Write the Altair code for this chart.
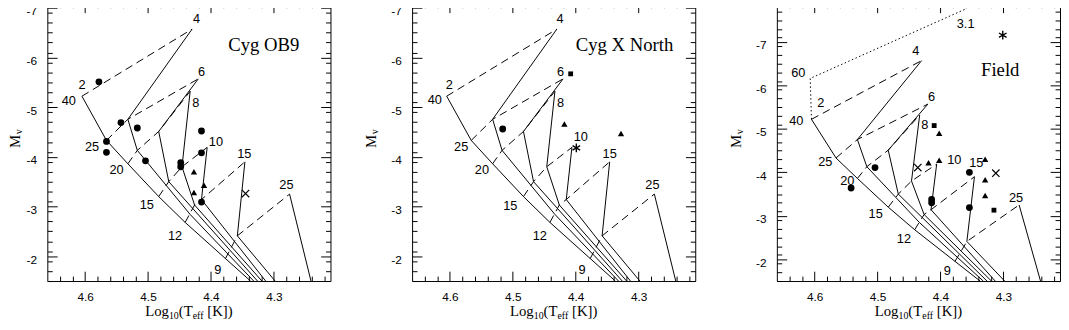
import altair as alt
import pandas as pd

# ---------------- model grid (same in all panels) ----------------
# isochrones (solid), labelled by age in Myr
ISO_AGES = ["2", "4", "6", "8", "10", "15", "25"]
ISO_X = [
    [4.605, 4.566, 4.532, 4.483, 4.441, 4.337],
    [4.430, 4.532, 4.517, 4.433, 4.332],
    [4.420, 4.483, 4.467, 4.326],
    [4.433, 4.446, 4.426, 4.319],
    [4.406, 4.415, 4.313],
    [4.346, 4.358, 4.298],
    [4.275, 4.241],
]
ISO_Y = [
    [-5.22, -4.33, -3.86, -3.20, -2.68, -1.50],
    [-6.57, -4.755, -4.13, -2.84, -1.50],
    [-5.57, -4.51, -3.50, -1.50],
    [-5.32, -3.80, -3.03, -1.50],
    [-4.19, -3.14, -1.50],
    [-3.90, -2.41, -1.50],
    [-3.25, -1.50],
]
# evolutionary tracks (dashed), labelled by mass
TRK_MASS = ["40", "25", "20", "15", "12", "9"]
TRK_X = [
    [4.605, 4.430],
    [4.566, 4.532, 4.420],
    [4.532, 4.517, 4.483, 4.433],
    [4.483, 4.467, 4.446, 4.406],
    [4.441, 4.426, 4.415, 4.346],
    [4.377, 4.358, 4.275],
]
TRK_Y = [
    [-5.22, -6.57],
    [-4.33, -4.755, -5.57],
    [-3.86, -4.13, -4.51, -5.32],
    [-3.20, -3.50, -3.80, -4.19],
    [-2.68, -3.03, -3.14, -3.90],
    [-1.95, -2.41, -3.25],
]
# 60 Msun extension (dotted, Field panel only)
T60_X = [4.605, 4.607, 4.358]
T60_Y = [-5.22, -6.16, -7.77]

# ---------------- stars ----------------
P1_CIRC_X = [4.578, 4.543, 4.517, 4.566, 4.566, 4.504, 4.448, 4.448, 4.415, 4.415, 4.415]
P1_CIRC_Y = [-5.51, -4.69, -4.58, -4.31, -4.09, -3.92, -3.88, -3.80, -4.52, -4.08, -3.09]
P1_TRI_X = [4.427, 4.411, 4.427]
P1_TRI_Y = [-3.70, -3.43, -3.28]
P1_SQ_X, P1_SQ_Y = [], []
P1_X_X = [4.345]
P1_X_Y = [-3.26]
P1_AST_X, P1_AST_Y = [], []

P2_CIRC_X = [4.516]
P2_CIRC_Y = [-4.56]
P2_TRI_X = [4.418, 4.328]
P2_TRI_Y = [-4.66, -4.47]
P2_SQ_X = [4.408]
P2_SQ_Y = [-5.67]
P2_X_X, P2_X_Y = [], []
P2_AST_X = [4.399]
P2_AST_Y = [-4.18]

P3_CIRC_X = [4.504, 4.542, 4.354, 4.414, 4.414, 4.354]
P3_CIRC_Y = [-4.11, -3.64, -4.00, -3.375, -3.30, -3.19]
P3_TRI_X = [4.402, 4.419, 4.402, 4.329, 4.329, 4.329]
P3_TRI_Y = [-4.90, -4.22, -4.28, -4.30, -3.83, -3.47]
P3_SQ_X = [4.410, 4.315]
P3_SQ_Y = [-5.076, -3.13]
P3_X_X = [4.436, 4.312]
P3_X_Y = [-4.11, -3.98]
P3_AST_X = [4.301]
P3_AST_Y = [-7.155]

# ---------------- in-plot labels ----------------
L1_T = ["2", "40", "4", "6", "8", "10", "15", "25", "25", "20", "15", "12", "9"]
L1_X = [4.605, 4.626, 4.423, 4.415, 4.424, 4.392, 4.347, 4.280, 4.589, 4.550, 4.502, 4.457, 4.389]
L1_Y = [-5.45, -5.13, -6.77, -5.71, -5.08, -4.29, -4.05, -3.43, -4.19, -3.73, -3.02, -2.41, -1.72]

L2_T = ["2", "40", "4", "6", "8", "10", "15", "25", "25", "20", "15", "12", "9"]
L2_X = [4.601, 4.624, 4.425, 4.424, 4.424, 4.392, 4.346, 4.278, 4.582, 4.549, 4.504, 4.457, 4.390]
L2_Y = [-5.45, -5.14, -6.77, -5.71, -5.08, -4.39, -4.06, -3.43, -4.19, -3.73, -3.00, -2.41, -1.72]

L3_T = ["60", "2", "40", "3.1", "4", "6", "8", "10", "15", "25", "25", "20", "15", "12", "9"]
L3_X = [4.626, 4.590, 4.629, 4.360, 4.439, 4.414, 4.425, 4.378, 4.343, 4.280, 4.583, 4.548, 4.503, 4.458, 4.389]
L3_Y = [-6.28, -5.60, -5.17, -7.42, -6.79, -5.72, -5.08, -4.28, -4.22, -3.41, -4.23, -3.81, -3.04, -2.47, -1.73]

TITLES = ["Cyg OB9", "Cyg X North", "Field"]
TITLE_X = [4.316, 4.3225, 4.305]
TITLE_Y = [-6.25, -6.25, -6.36]

X_MAJOR = [4.6, 4.5, 4.4, 4.3]
X_MINOR = [round(4.22 + 0.02 * i, 2) for i in range(22)]
X_MINOR = [v for v in X_MINOR if abs(round(v, 1) - v) > 1e-6]
Y_MAJOR = [-7, -6, -5, -4, -3, -2]
Y_TOP = [-7.1, -7.1, -7.9]

W, H = 288, 283
MAJ, MIN = 10, 5


def lines_df(names, xs, ys):
    rows = []
    for n, xl, yl in zip(names, xs, ys):
        for i, (x, y) in enumerate(zip(xl, yl)):
            rows.append({"line": n, "i": i, "x": x, "y": y})
    return pd.DataFrame(rows)


def tick_axis(orient, values, size, **kw):
    return alt.Axis(orient=orient, values=values, offset=-size, tickSize=size,
                    domain=False, grid=False, title=None, tickColor="black",
                    tickWidth=1, **kw)


def panel(k, circ, tri, sq, xx, ast, lab, ytitle_x):
    ytop = Y_TOP[k]
    y_minor = [round(ytop + 0.2 * i, 1) for i in range(int(round((-1.5 - ytop) / 0.2)) + 1)]
    y_minor = [v for v in y_minor if abs(v - round(v)) > 1e-6 and ytop <= v <= -1.5]
    xs = alt.Scale(domain=[4.21, 4.66], reverse=True, nice=False, zero=False)
    ys = alt.Scale(domain=[ytop, -1.5], reverse=True, nice=False, zero=False)

    ax_b = tick_axis("bottom", X_MAJOR, MAJ, labels=True, labelExpr="format(datum.value, '.1f')",
                     labelPadding=11, labelFont="Liberation Sans", labelFontSize=12,
                     labelColor="black")
    ax_l = tick_axis("left", Y_MAJOR, MAJ, labels=True, labelExpr="datum.value + ''",
                     labelPadding=11, labelOffset=3, labelFont="Liberation Sans", labelFontSize=12,
                     labelColor="black")
    ax_t = tick_axis("top", X_MAJOR, MAJ, labels=False)
    ax_r = tick_axis("right", Y_MAJOR, MAJ, labels=False)
    ax_bm = tick_axis("bottom", X_MINOR, MIN, labels=False)
    ax_lm = tick_axis("left", y_minor, MIN, labels=False)
    ax_tm = tick_axis("top", X_MINOR, MIN, labels=False)
    ax_rm = tick_axis("right", y_minor, MIN, labels=False)

    def enc(ax_x, ax_y):
        return dict(x=alt.X("x:Q", scale=xs, axis=ax_x), y=alt.Y("y:Q", scale=ys, axis=ax_y))

    layers = []
    layers.append(alt.Chart(lines_df(ISO_AGES, ISO_X, ISO_Y)).mark_line(
        color="black", strokeWidth=1, clip=True).encode(
        detail="line:N", order="i:Q", **enc(ax_b, ax_l)))
    layers.append(alt.Chart(lines_df(TRK_MASS, TRK_X, TRK_Y)).mark_line(
        color="black", strokeWidth=1, strokeDash=[8, 5], clip=True).encode(
        detail="line:N", order="i:Q", **enc(ax_t, ax_r)))
    if k == 2:
        layers.append(alt.Chart(lines_df(["60"], [T60_X], [T60_Y])).mark_line(
            color="black", strokeWidth=1, strokeDash=[1.5, 2.5], clip=True).encode(
            detail="line:N", order="i:Q", **enc(None, None)))
    layers.append(alt.Chart(pd.DataFrame({"x": circ[0], "y": circ[1]})).mark_point(
        shape="circle", filled=True, size=48, color="black", opacity=1).encode(**enc(ax_bm, ax_lm)))
    layers.append(alt.Chart(pd.DataFrame({"t": lab[0], "x": lab[1], "y": lab[2]})).mark_text(
        font="Liberation Sans", fontSize=13, color="black", align="center", baseline="middle").encode(
        text="t:N", **enc(ax_tm, ax_rm)))
    if tri[0]:
        layers.append(alt.Chart(pd.DataFrame({"x": tri[0], "y": tri[1]})).mark_point(
            shape="triangle-up", filled=True, size=42, color="black", opacity=1).encode(**enc(None, None)))
    if sq[0]:
        layers.append(alt.Chart(pd.DataFrame({"x": sq[0], "y": sq[1]})).mark_point(
            shape="square", filled=True, size=24, color="black", opacity=1).encode(**enc(None, None)))
    if xx[0]:
        layers.append(alt.Chart(pd.DataFrame({"x": xx[0], "y": xx[1]})).mark_point(
            shape="M-1,-1L1,1M-1,1L1,-1", filled=False, size=56, strokeWidth=1.2,
            color="black", opacity=1).encode(**enc(None, None)))
    if ast[0]:
        layers.append(alt.Chart(pd.DataFrame({"x": ast[0], "y": ast[1]})).mark_point(
            shape="M0,-1L0,1M-0.866,-0.5L0.866,0.5M-0.866,0.5L0.866,-0.5", filled=False,
            size=80, strokeWidth=1.4, color="black", opacity=1).encode(**enc(None, None)))
    layers.append(alt.Chart(pd.DataFrame({"t": [TITLES[k]], "x": [TITLE_X[k]], "y": [TITLE_Y[k]]})).mark_text(
        font="Liberation Serif", fontSize=19, color="black", align="center", baseline="middle").encode(
        text="t:N", **enc(None, None)))

    # axis titles built from pieces (for the subscripts)
    def piece(txt, px, py, fs, angle=0, align="left"):
        return alt.Chart(pd.DataFrame({"t": [txt]})).mark_text(
            font="Liberation Serif", fontSize=fs, color="black", align=align,
            baseline="alphabetic", angle=angle).encode(
            text="t:N", x=alt.value(px), y=alt.value(py))

    x0, yb = 99.5, 318.5
    layers += [
        piece("Log", x0, yb, 15),
        piece("10", x0 + 24.2, yb + 3, 10),
        piece("(T", x0 + 34.2, yb, 15),
        piece("eff", x0 + 48.4, yb + 3, 10),
        piece("[K])", x0 + 63.2, yb, 15),
        piece("M", ytitle_x, 141, 15, angle=270, align="center"),
        piece("v", ytitle_x + 2, 133.8, 10, angle=270, align="left"),
    ]
    return alt.layer(*layers).resolve_axis(x="independent", y="independent").properties(width=W, height=H)


p1 = panel(0, (P1_CIRC_X, P1_CIRC_Y), (P1_TRI_X, P1_TRI_Y), (P1_SQ_X, P1_SQ_Y),
           (P1_X_X, P1_X_Y), (P1_AST_X, P1_AST_Y), (L1_T, L1_X, L1_Y), -28)
p2 = panel(1, (P2_CIRC_X, P2_CIRC_Y), (P2_TRI_X, P2_TRI_Y), (P2_SQ_X, P2_SQ_Y),
           (P2_X_X, P2_X_Y), (P2_AST_X, P2_AST_Y), (L2_T, L2_X, L2_Y), -36.5)
p3 = panel(2, (P3_CIRC_X, P3_CIRC_Y), (P3_TRI_X, P3_TRI_Y), (P3_SQ_X, P3_SQ_Y),
           (P3_X_X, P3_X_Y), (P3_AST_X, P3_AST_Y), (L3_T, L3_X, L3_Y), -36.5)

chart = alt.hconcat(p1, p2, p3, spacing=33).properties(
    padding={"left": -1, "top": -9, "right": 0, "bottom": 0}
).configure_view(stroke="black", strokeWidth=1)

chart.save("out.html", embed_options={"renderer": "svg", "actions": False})
